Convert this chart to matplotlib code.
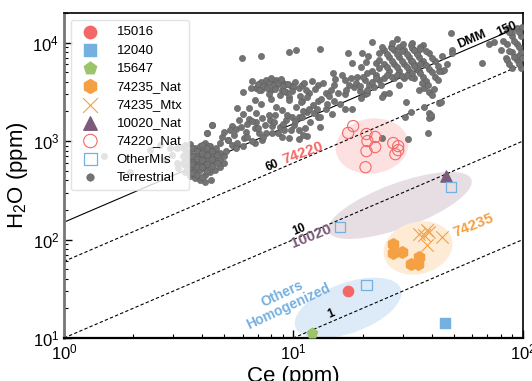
import numpy as np
import matplotlib
matplotlib.use("Agg")
import matplotlib.pyplot as plt
from matplotlib.patches import Ellipse
from matplotlib.transforms import ScaledTranslation

plt.rcParams['font.family'] = ['Liberation Sans', 'DejaVu Sans']
plt.rcParams['mathtext.fontset'] = 'custom'
plt.rcParams['mathtext.rm'] = 'Liberation Sans'

# --- lunar melt inclusions (Ce ppm, H2O ppm) ---
s15016_ce = [17.2]
s15016_h2o = [30]
s12040_ce = [45.8]
s12040_h2o = [14.2]
s15647_ce = [12.0]
s15647_h2o = [11.2]
s74235_nat_ce = [27.2, 27.2, 29.8, 32.6, 35.3, 34.9]
s74235_nat_h2o = [91, 73.6, 75.5, 56.9, 67.1, 56.9]
s74235_mtx_ce = [35.3, 38.2, 39.0, 38.2, 44.4, 37.1]
s74235_mtx_h2o = [115, 124, 118, 89, 107, 112]
s10020_ce = [46.3]
s10020_h2o = [440]
s74220_ce = [18.2, 17.3, 20.8, 22.7, 21.0, 22.7, 20.8, 27.2, 28.6, 28.6, 27.8, 20.6]
s74220_h2o = [1420, 1210, 1180, 1100, 1000, 869, 791, 955, 889, 809, 736, 543]
other_ce = [16.0, 20.8, 48.6]
other_h2o = [133, 34.7, 339]

# --- terrestrial MORB / OIB glasses ---
terr_ce = [
    1.49, 1.94, 2.36, 2.89, 3.10, 3.19, 2.95, 3.10, 3.15, 2.61, 2.75, 3.36,
    3.36, 3.36, 3.36, 3.36, 3.53, 3.53, 3.53, 3.53, 3.53, 3.71, 3.71, 3.71, 3.71, 3.71,
    3.90, 3.90, 3.90, 3.90, 3.90, 3.90, 4.10, 4.10, 4.10, 4.10, 4.10, 4.10, 4.10,
    4.31, 4.31, 4.31, 4.31, 4.31, 4.53, 4.53, 4.53, 4.53, 4.77, 4.77, 4.77,
    4.4, 4.2, 5.2, 5.0, 4.35, 3.6, 4.0, 3.8, 4.6, 4.2,
    5.95, 7.2, 9.6, 10.3,
    6.9, 7.25, 7.25, 7.6, 7.6, 8.0, 8.0, 8.4, 8.4, 8.9, 8.9, 9.3, 9.3, 9.8, 10.2, 10.6,
    7.8, 8.7, 9.6,
    6.0, 6.6, 6.8, 5.7, 6.4, 6.9, 8.4, 8.9, 9.6, 10.3, 4.4, 4.2, 5.4, 5.8, 6.4, 6.9,
    7.9, 8.1, 8.7, 9.3, 9.9, 10.6, 11.4, 5.6, 6.2, 6.8, 7.1, 7.6, 8.1, 8.9, 9.6, 10.6,
    5.2, 5.4, 6.0, 6.8, 4.3, 7.3, 6.1, 7.5, 9.1, 10.1, 8.3, 7.3, 6.3,
    13.1, 17.2, 19.9, 22.0, 21.1, 23.7, 28.3, 26.6, 32.9, 17.9, 19.7, 20.7, 22.9,
    24.9, 24.9, 24.9, 26.1, 26.1, 27.5, 27.5, 27.5, 28.9, 28.9, 28.9, 30.4, 30.4, 30.4,
    31.9, 31.9, 33.6, 33.6, 33.6, 35.3, 35.3,
    14.9, 16.2, 18.9, 21.0, 22.9,
    16.7, 16.7, 18.4, 20.4, 20.4, 22.5, 24.9, 17.5, 21.4, 23.7, 19.4,
    10.9, 10.9, 10.9, 11.7, 11.7, 12.8, 12.8, 12.8, 13.8, 13.8, 15.0, 15.0, 14.3, 12.2,
    16.7, 18.0, 19.7, 21.0, 24.4, 26.1, 28.9, 30.9, 30.6, 32.6, 11.2, 13.0, 11.5, 12.3,
    48.5, 44.3, 45.4, 43.2, 48.9, 48.9, 44.3, 71.1, 74.8, 66.4, 84.4,
    35.3, 37.1, 39.0, 40.2, 43.2, 37.1, 39.0, 39.8,
    32.6, 32.6, 32.6, 34.5, 34.5, 36.7, 36.7, 36.7, 39.0, 39.0, 41.4, 41.4,
    84.9, 84.9, 84.9, 89.2, 89.2, 89.2, 93.9, 93.9, 93.9, 98.2, 98.2, 98.2, 80.0, 90.0, 95.0,
    39.0, 39.8, 38.7, 44.0, 24.2, 31.4,
]
terr_h2o = [
    705, 490, 810, 850, 850, 870, 721, 598, 530, 911, 641, 911,
    810, 672, 571, 485, 933, 773, 641, 532, 441, 849, 704, 612, 508, 421,
    890, 773, 672, 584, 508, 402, 955, 810, 704, 612, 532, 452, 384,
    890, 773, 672, 571, 485, 810, 704, 612, 508, 755, 641, 545,
    1450, 1205, 1020, 598, 402, 620, 730, 560, 850, 650,
    6970, 7300, 8020, 8400,
    3450, 3970, 3300, 4160, 3620, 3970, 3300, 4160, 3620, 3970, 3300, 3790, 3140, 3620, 3970, 3450,
    3000, 2930, 2800,
    3140, 4060, 2610, 2170, 2170, 1940, 2220, 2070, 2610, 2220, 1450, 1205, 1420, 1630, 1670, 1560,
    1630, 1420, 1390, 1630, 1760, 1760, 1970, 1320, 1240, 1350, 1205, 1205, 1205, 1100, 1080, 1050,
    1020, 911, 890, 955, 890, 1020, 1070, 1450, 1290, 1450, 1840, 1720, 1490,
    8590, 7820, 7820, 10100, 7300, 7820, 10870, 9000, 9890, 6200, 5640, 6340, 6200,
    8400, 6060, 4370, 7130, 5140, 8400, 6060, 4370, 9000, 7130, 5140, 8400, 6060, 4370,
    7130, 5140, 8400, 6060, 4370, 7130, 5140,
    4900, 4680, 4460, 4900, 4680,
    4160, 3000, 3530, 4160, 3000, 3530, 3000, 3700, 3700, 4160, 3200,
    3700, 2550, 1750, 3070, 2110, 3700, 2550, 1750, 3070, 2110, 3700, 2550, 2900, 2300,
    2110, 2110, 2730, 3070, 2800, 3070, 3700, 2490, 1750, 1970, 1355, 1750, 1125, 1920,
    12480, 5140, 5260, 5140, 8400, 7820, 7300, 9660, 10100, 6200, 6970,
    3300, 3450, 3140, 2930, 2430, 2210, 1920, 1750,
    9440, 6490, 4460, 7820, 5380, 9440, 6490, 4460, 7820, 5380, 6490, 4460,
    14000, 9660, 6650, 11650, 8020, 5510, 14000, 9660, 6650, 11650, 8020, 5510, 8500, 12800, 7300,
    1720, 1840, 1205, 2490, 1080, 1060,
]

# denser parts of the terrestrial clusters
terr_dense_ce = [
    3.45, 3.45, 3.45, 3.62, 3.62, 3.62, 3.62, 3.80, 3.80, 3.80, 3.80,
    4.0, 4.0, 4.0, 4.0, 4.0, 4.2, 4.2, 4.2, 4.2, 4.42, 4.42, 4.42, 4.65, 4.65,
    3.3, 3.3, 5.0, 5.1, 4.9, 5.3, 5.7, 4.8,
    7.0, 7.4, 7.8, 8.2, 8.6, 9.0, 9.5, 10.0, 7.1, 7.7, 8.3, 9.1, 9.9, 8.0, 8.8, 6.5,
    5.5, 5.9, 6.3, 6.6, 7.0, 7.4, 7.8, 8.2, 8.6, 9.0, 9.4, 9.8, 10.2, 10.6, 11.0,
    5.0, 6.0, 7.2, 8.0, 10.8, 11.0, 6.6, 5.6,
    11.3, 11.5, 12.0, 12.4, 12.6, 13.2, 13.5, 14.0, 14.5, 15.2, 15.6, 16.0, 17.0,
    17.8, 18.8, 19.5, 20.0, 21.0, 22.0, 23.0, 24.0, 11.8, 13.0, 14.7, 10.7, 11.1,
    25.5, 25.5, 25.5, 26.8, 26.8, 26.8, 28.2, 28.2, 28.2, 29.6, 29.6, 29.6,
    31.1, 31.1, 31.1, 32.7, 32.7, 32.7, 34.4, 34.4, 23.5, 23.5, 24.2, 22.0,
    30.0, 27.0, 35.5, 36.0,
    33.5, 33.5, 35.5, 35.5, 35.5, 37.8, 37.8, 37.8, 40.2, 40.2, 38.5, 42.5, 42.5,
    41.0, 46.5, 36.2,
    86.5, 86.5, 86.5, 91.5, 91.5, 96.0, 96.0, 96.0, 99.0, 99.0, 82.0,
]
terr_dense_h2o = [
    740, 620, 520, 860, 700, 580, 470, 800, 660, 550, 450,
    920, 760, 640, 540, 430, 850, 720, 590, 500, 790, 660, 560, 720, 600,
    700, 600, 700, 800, 1100, 1300, 950, 950,
    3800, 3600, 3850, 3700, 3850, 3600, 3800, 3550, 3300, 3450, 3350, 3250, 3200, 4400, 4300, 3500,
    1150, 1400, 1100, 1600, 1350, 1100, 1850, 1550, 1200, 1500, 1850, 1300, 1600, 1300, 2000,
    1250, 1900, 2400, 2700, 2500, 1150, 1000, 850,
    3300, 2800, 4100, 3400, 2100, 2700, 3900, 2400, 3300, 4300, 3100, 2400, 3300,
    4400, 3900, 3600, 4500, 3300, 4000, 4400, 3700, 1550, 1400, 1900, 2900, 3900,
    7700, 5600, 4700, 8800, 6500, 4500, 7700, 5600, 4700, 8200, 6500, 4600,
    7700, 5600, 4700, 8800, 6500, 4900, 7700, 5600, 5500, 6700, 9100, 5200,
    9700, 10000, 9000, 6200,
    8500, 5800, 8700, 6000, 4900, 8300, 5900, 4100, 7000, 5000, 3700, 5800, 4200,
    3400, 6000, 3900,
    12800, 8200, 6000, 10500, 7200, 12800, 9000, 6100, 14500, 7000, 10500,
]

# H2O/Ce reference ratios
ratios = [150, 60, 10, 1]
ratio_styles = ['-', '--', '--', '--']
ce_line = np.array([1, 100])

red = '#f46767'
blue = '#74b0e0'
green = '#9cc46a'
orange = '#f5a043'
purple = '#7b5b7a'
gray = '#737373'

fig = plt.figure(figsize=(5.32, 3.81), dpi=100)
ax = fig.add_axes([0.1203, 0.1129, 0.8627, 0.853])
ax.set_xscale('log')
ax.set_yscale('log')
ax.set_xlim(1, 100)
ax.set_ylim(10, 2.0e4)


def add_ellipse(ce, h2o, w_px, h_px, angle, color):
    # size given in display pixels, centred on a data point
    tr = fig.dpi_scale_trans + ScaledTranslation(ce, h2o, ax.transData)
    e = Ellipse((0, 0), w_px / 100, h_px / 100, angle=angle, transform=tr,
                facecolor=color, edgecolor='none', zorder=1)
    ax.add_patch(e)


add_ellipse(22, 890, 73, 55, 8, '#fde1e1')
add_ellipse(29.1, 222, 152, 45, 20, '#e7dee4')
add_ellipse(34.9, 82, 70, 52, 15, '#fdebd5')
add_ellipse(17.3, 20.2, 112, 50, 20, '#ddeaf7')

for r, ls in zip(ratios, ratio_styles):
    ax.plot(ce_line, r * ce_line, ls=ls, color='black', lw=0.8,
            dashes=(3, 2) if ls == '--' else (None, None), zorder=2)

all_ce = terr_ce + terr_dense_ce
all_h2o = terr_h2o + terr_dense_h2o
ax.scatter(all_ce, all_h2o, s=20, color=gray, edgecolor='#5e5e5e', linewidth=0.4,
           zorder=3, label='Terrestrial')

ax.scatter(s15016_ce, s15016_h2o, s=55, marker='o', color=red, zorder=5, label='15016')
ax.scatter(s12040_ce, s12040_h2o, s=45, marker='s', color=blue, zorder=5, label='12040')
ax.scatter(s15647_ce, s15647_h2o, s=60, marker='p', color=green, zorder=5, label='15647')
ax.scatter(s74235_nat_ce, s74235_nat_h2o, s=70, marker='h', color=orange, zorder=5, label='74235_Nat')
ax.scatter(s74235_mtx_ce, s74235_mtx_h2o, s=80, marker='x', color=orange, linewidth=0.8,
           zorder=5, label='74235_Mtx')
ax.scatter(s10020_ce, s10020_h2o, s=65, marker='^', color=purple, zorder=5, label='10020_Nat')
ax.scatter(s74220_ce, s74220_h2o, s=65, marker='o', facecolor='none', edgecolor=red,
           linewidth=0.8, zorder=5, label='74220_Nat')
ax.scatter(other_ce, other_h2o, s=55, marker='s', facecolor='none', edgecolor=blue,
           linewidth=0.9, zorder=5, label='OtherMIs')

rot = 23
ax.text(60, 10800, 'DMM', fontsize=9, fontweight='bold', rotation=rot,
        ha='center', va='center', zorder=6)
ax.text(85, 13600, '150', fontsize=9, fontweight='bold', rotation=rot,
        ha='center', va='center', zorder=6)
ax.text(8.06, 560, '60', fontsize=8.5, fontweight='bold', rotation=rot,
        ha='center', va='center', zorder=6)
ax.text(10.6, 125, '10', fontsize=8.5, fontweight='bold', rotation=rot,
        ha='center', va='center', zorder=6)
ax.text(14.6, 17.5, '1', fontsize=8.5, fontweight='bold', rotation=rot,
        ha='center', va='center', zorder=6)

ax.text(11.0, 755, '74220', fontsize=11, fontweight='bold', color=red, rotation=20,
        ha='center', va='center', zorder=6)
ax.text(12.0, 109, '10020', fontsize=11, fontweight='bold', color=purple, rotation=22,
        ha='center', va='center', zorder=6)
ax.text(60.6, 140, '74235', fontsize=11, fontweight='bold', color=orange, rotation=22,
        ha='center', va='center', zorder=6)
ax.text(9.2, 24.3, 'Others\nHomogenized', fontsize=10, fontweight='bold', color=blue,
        rotation=25, ha='center', va='center', linespacing=0.95, zorder=6)

ax.set_xlabel('Ce (ppm)', fontsize=16, labelpad=2)
ax.set_ylabel('H$_2$O (ppm)', fontsize=16, labelpad=2)

ax.tick_params(which='both', direction='in', labelsize=12)
ax.tick_params(which='major', length=6, width=1)
ax.tick_params(which='minor', length=3, width=0.8)

ax.spines['left'].set_color('#777777')
ax.spines['left'].set_linewidth(2)
ax.spines['bottom'].set_linewidth(1.6)
ax.spines['top'].set_linewidth(1.2)
ax.spines['right'].set_linewidth(1.2)

handles, labels = ax.get_legend_handles_labels()
order = ['15016', '12040', '15647', '74235_Nat', '74235_Mtx', '10020_Nat',
         '74220_Nat', 'OtherMIs', 'Terrestrial']
hmap = dict(zip(labels, handles))
leg = ax.legend([hmap[k] for k in order], order, loc='upper left', fontsize=9.5,
                labelspacing=0.45, handletextpad=1.0, borderpad=0.5,
                markerscale=1.2, framealpha=0.8, edgecolor='#dddddd')
leg.set_zorder(10)

fig.savefig('out.png', dpi=100)
